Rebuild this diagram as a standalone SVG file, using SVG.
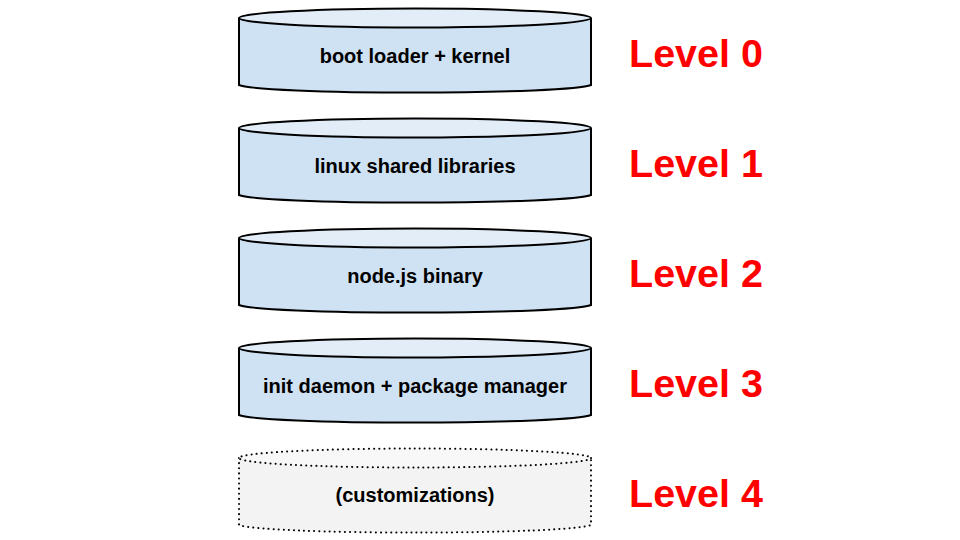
<svg xmlns="http://www.w3.org/2000/svg" width="960" height="540" viewBox="0 0 960 540">
<style>
.body{fill:#cfe2f3;stroke:#000;stroke-width:2}
.top{fill:#e2edf8;stroke:#000;stroke-width:2}
.dbody{fill:#f3f3f3;stroke:#000;stroke-width:2;stroke-dasharray:0.1 5;stroke-linecap:round}
.dtop{fill:#f8f8f8;stroke:#000;stroke-width:2;stroke-dasharray:0.1 5;stroke-linecap:round}
.lbl{font-family:"Liberation Sans",Arial,sans-serif;font-weight:bold;font-size:20px;fill:#000;text-anchor:middle}
.lvl{font-family:"Liberation Sans",Arial,sans-serif;font-weight:bold;font-size:39.5px;fill:#ff0000}
</style>
<rect width="960" height="540" fill="#fff"/>
<g id="cyl0">
<path class="body" d="M239 18 V85 A177 8.5 0 0 0 591 85 V18"/>
<ellipse class="top" cx="415" cy="18" rx="176" ry="9.5"/>
<text class="lbl" x="415" y="63">boot loader + kernel</text>
</g>
<g id="cyl1">
<path class="body" d="M239 128 V195 A177 8.5 0 0 0 591 195 V128"/>
<ellipse class="top" cx="415" cy="128" rx="176" ry="9.5"/>
<text class="lbl" x="415" y="173">linux shared libraries</text>
</g>
<g id="cyl2">
<path class="body" d="M239 238 V305 A177 8.5 0 0 0 591 305 V238"/>
<ellipse class="top" cx="415" cy="238" rx="176" ry="9.5"/>
<text class="lbl" x="415" y="283">node.js binary</text>
</g>
<g id="cyl3">
<path class="body" d="M239 348 V415 A177 8.5 0 0 0 591 415 V348"/>
<ellipse class="top" cx="415" cy="348" rx="176" ry="9.5"/>
<text class="lbl" x="415" y="393">init daemon + package manager</text>
</g>
<g id="cyl4">
<path class="dbody" d="M239 458 V525 A177 8.5 0 0 0 591 525 V458"/>
<ellipse class="dtop" cx="415" cy="458" rx="176" ry="9.5"/>
<text class="lbl" x="415" y="502">(customizations)</text>
</g>
<g id="levels">
<text class="lvl" x="629" y="67">Level 0</text>
<text class="lvl" x="629" y="177">Level 1</text>
<text class="lvl" x="629" y="287">Level 2</text>
<text class="lvl" x="629" y="397">Level 3</text>
<text class="lvl" x="629" y="507">Level 4</text>
</g>
<g id="connectors"></g>
</svg>
